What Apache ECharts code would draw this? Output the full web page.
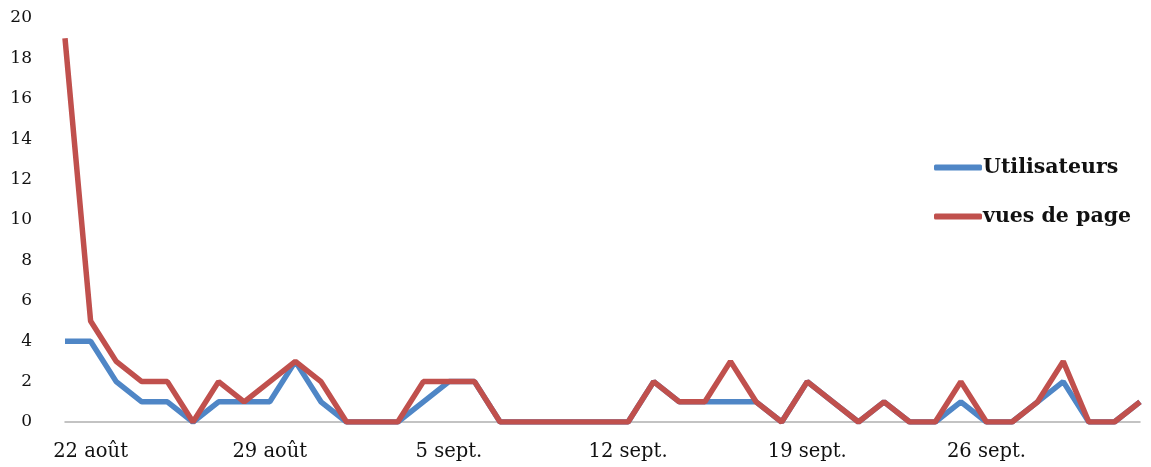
<!DOCTYPE html>
<html><head><meta charset="utf-8">
<script src="https://cdn.jsdelivr.net/npm/echarts@6/dist/echarts.min.js"></script>
<style>html,body{margin:0;padding:0;background:#fff}#c{width:1151px;height:467px}</style>
</head><body><div id="c"></div>
<script>
const dates = ['21 août','22 août','23 août','24 août','25 août','26 août','27 août','28 août','29 août','30 août','31 août',
 '1 sept.','2 sept.','3 sept.','4 sept.','5 sept.','6 sept.','7 sept.','8 sept.','9 sept.','10 sept.','11 sept.','12 sept.',
 '13 sept.','14 sept.','15 sept.','16 sept.','17 sept.','18 sept.','19 sept.','20 sept.','21 sept.','22 sept.','23 sept.',
 '24 sept.','25 sept.','26 sept.','27 sept.','28 sept.','29 sept.','30 sept.','1 oct.','2 oct.'];
const utilisateurs = [4,4,2,1,1,0,1,1,1,3,1,0,0,0,1,2,2,0,0,0,0,0,0,2,1,1,1,1,0,2,1,0,1,0,0,1,0,0,1,2,0,0,1];
const vuesDePage   = [19,5,3,2,2,0,2,1,2,3,2,0,0,0,2,2,2,0,0,0,0,0,0,2,1,1,3,1,0,2,1,0,1,0,0,2,0,0,1,3,0,0,1];
const yTicks = [0,2,4,6,8,10,12,14,16,18,20];

const font = '"DejaVu Serif", "Liberation Serif", serif';
const chart = echarts.init(document.getElementById('c'));
chart.setOption({
  animation: false,
  grid: {left: 65, right: 11, top: 18, bottom: 45},
  legend: {
    orient: 'vertical', left: 929, top: 152, itemGap: 28,
    itemWidth: 48, itemHeight: 6, icon: 'roundRect',
    textStyle: {fontFamily: font, fontWeight: 'bold', fontSize: 20.5, color: '#111', padding: [0,0,0,-4]},
    data: ['Utilisateurs', 'vues de page']
  },
  xAxis: {
    type: 'category', data: dates, boundaryGap: false,
    axisLine: {lineStyle: {color: '#b0b0b0', width: 1.5}},
    axisTick: {show: false},
    axisLabel: {interval: (i) => i % 7 === 1, fontFamily: font, fontSize: 19.5, color: '#111', margin: 20}
  },
  yAxis: {
    type: 'value', min: 0, max: 20, interval: 2,
    splitLine: {show: false}, axisLine: {show: false}, axisTick: {show: false},
    axisLabel: {fontFamily: font, fontSize: 17, color: '#111', margin: 33,
      formatter: (v) => yTicks.includes(v) ? String(v) : ''}
  },
  series: [
    {name: 'Utilisateurs', type: 'line', data: utilisateurs, symbol: 'none',
     lineStyle: {width: 5.5, color: '#4F86C6'}, itemStyle: {color: '#4F86C6'}},
    {name: 'vues de page', type: 'line', data: vuesDePage, symbol: 'none',
     lineStyle: {width: 5.5, color: '#C0504D'}, itemStyle: {color: '#C0504D'}}
  ]
});
</script></body></html>
